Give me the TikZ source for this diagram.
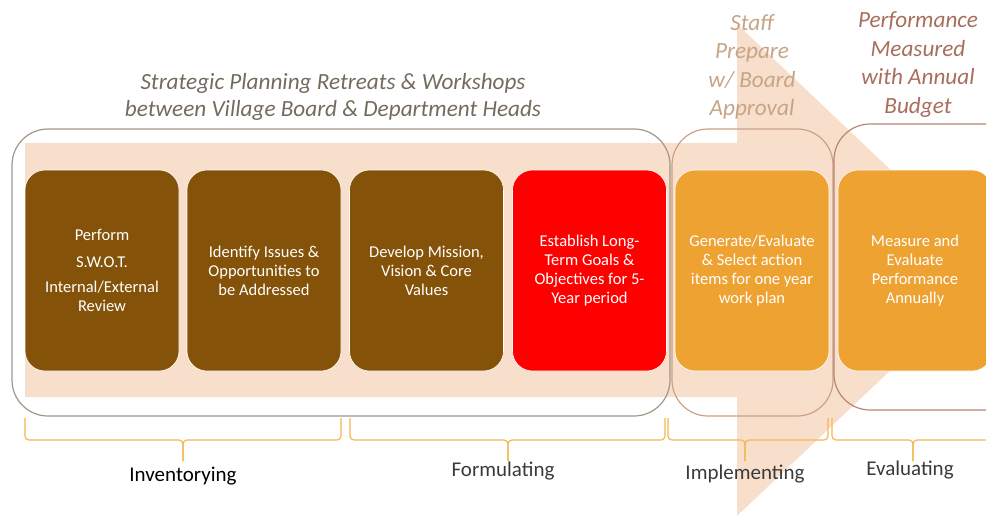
\documentclass[tikz,border=0pt]{standalone}
\usepackage{fontspec}
\setmainfont{Carlito}
\usetikzlibrary{positioning}

\definecolor{peach}{HTML}{F8DFCC}
\definecolor{phasebrown}{HTML}{845309}
\definecolor{phasered}{HTML}{FF0000}
\definecolor{phaseorange}{HTML}{EEA232}
\definecolor{braceorange}{HTML}{F6B653}
\definecolor{titlegray}{HTML}{736B5E}
\definecolor{stafftan}{HTML}{C6A587}
\definecolor{perfrose}{HTML}{A86E5C}
\definecolor{bigborder}{HTML}{9E988A}
\definecolor{implborder}{HTML}{C9A287}
\definecolor{evalborder}{HTML}{B78570}
\definecolor{labelgray}{HTML}{3A3A3A}

\tikzset{
  phase/.style={rounded corners=20pt, minimum width=154pt, minimum height=201pt,
    draw=white, line width=0.6pt, text=white, align=center, inner sep=0pt,
    font=\fontsize{16.5}{19}\selectfont},
  group/.style={rounded corners=36pt, line width=1.2pt},
  caption/.style={align=center, font=\fontsize{23.2}{28.5}\selectfont\itshape},
  stage/.style={font=\fontsize{21}{25}\selectfont, text=labelgray},
  phasebrace/.style={draw=braceorange, line width=1.2pt, rounded corners=4pt}
}

\begin{document}
\begin{tikzpicture}[x=1pt,y=-1pt]
\useasboundingbox (0,0) rectangle (986,520);
\clip (0,0) rectangle (986,520);

\fill[peach] (25,143) -- (737,143) -- (737,24) -- (996,270) -- (737,516) -- (737,397) -- (25,397) -- cycle;

\draw[group, draw=bigborder] (12,129) rectangle (670,416);
\draw[group, draw=implborder] (672,129) rectangle (833,416);
\draw[group, draw=evalborder] (834,124) rectangle (1030,410);

\node[phase, fill=phasebrown] (perform) at (102,270.5) {Perform\\[8pt] S.W.O.T.\\[6pt] Internal/External\\ Review};
\node[phase, fill=phasebrown] (identify) at (264,270.5) {Identify Issues \&\\ Opportunities to\\ be Addressed};
\node[phase, fill=phasebrown] (develop) at (426.5,270.5) {Develop Mission,\\ Vision \& Core\\ Values};
\node[phase, fill=phasered] (establish) at (589.5,270.5) {Establish Long-\\ Term Goals \&\\ Objectives for 5-\\ Year period};
\node[phase, fill=phaseorange] (generate) at (752,270.5) {Generate/Evaluate\\ \& Select action\\ items for one year\\ work plan};
\node[phase, fill=phaseorange] (measure) at (915,270.5) {Measure and\\ Evaluate\\ Performance\\ Annually};

\node[caption, text=titlegray, font=\fontsize{23.2}{27}\selectfont\itshape] (retreats) at (333,97) {Strategic Planning Retreats \& Workshops\\ between Village Board \& Department Heads};
\node[caption, text=stafftan] (staff) at (752,67) {Staff\\ Prepare\\ w/ Board\\ Approval};
\node[caption, text=perfrose] (budget) at (918,64.5) {Performance\\ Measured\\ with Annual\\ Budget};

\draw[phasebrace] (25,418) |- (183,440) -- (183,461);
\draw[phasebrace] (341,418) |- (183,440) -- (183,461);
\draw[phasebrace] (350,418) |- (508,440) -- (508,461);
\draw[phasebrace] (665,418) |- (508,440) -- (508,461);
\draw[phasebrace] (668,418) |- (745,440) -- (745,461);
\draw[phasebrace] (828,418) |- (745,440) -- (745,461);
\draw[phasebrace] (832,418) |- (913,440) -- (913,461);
\draw[phasebrace] (994,418) |- (913,440) -- (913,461);

\node[stage, text=black] (inventory) at (183,476) {Inventorying};
\node[stage] (formulate) at (503,471) {Formulating};
\node[stage] (implement) at (745,474) {Implementing};
\node[stage] (evaluate) at (910,470) {Evaluating};
\end{tikzpicture}
\end{document}
